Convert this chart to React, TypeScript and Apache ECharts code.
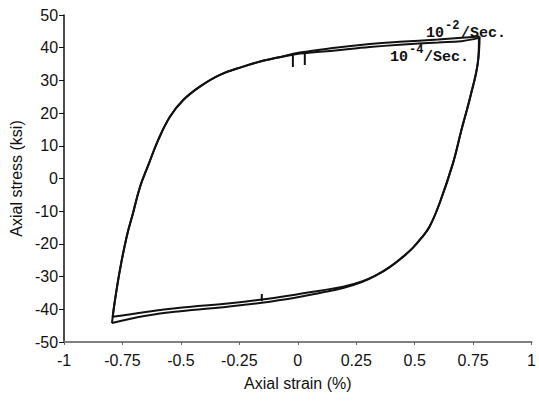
import React, { useEffect, useRef } from "react";
import * as echarts from "echarts";

// Axis ticks
const xTickValues = [-1, -0.75, -0.5, -0.25, 0, 0.25, 0.5, 0.75, 1];
const xTickLabels = ["-1", "-0.75", "-0.5", "-0.25", "0", "0.25", "0.5", "0.75", "1"];
const yTickLabels = ["-50", "-40", "-30", "-20", "-10", "0", "10", "20", "30", "40", "50"];

// 10^-2/sec loop (outer): rising branch (compression tip -> tension tip)
const fastUpStrain = [
  -0.795, -0.782, -0.761, -0.732, -0.705, -0.675, -0.64, -0.597, -0.547, -0.49, -0.419, -0.333,
  -0.234, -0.15, -0.091, 0.009, 0.15, 0.308, 0.436, 0.6, 0.778,
];
const fastUpStress = [
  -44.2, -37.2, -28.0, -17.8, -10.6, -2.6, 4.0, 11.8, 18.9, 24.0, 28.1, 31.7,
  34.2, 36.0, 36.9, 38.5, 39.9, 41.1, 41.8, 42.5, 43.4,
];
// 10^-2/sec loop (outer): falling branch (tension tip -> compression tip)
const fastDownStrain = [
  0.778, 0.77, 0.738, 0.7, 0.664, 0.607, 0.564, 0.532, 0.491, 0.444, 0.393, 0.338, 0.274, 0.194,
  0.094, 0.0, -0.154, -0.3, -0.504, -0.65, -0.795,
];
const fastDownStress = [
  43.4, 35.3, 25.0, 14.8, 4.7, -7.5, -14.7, -17.9, -21.3, -24.3, -27.1, -29.5, -31.7, -33.5,
  -35.0, -36.3, -38.0, -39.2, -40.6, -42.0, -44.2,
];

// 10^-4/sec loop (inner)
const slowUpStrain = [
  -0.792, -0.782, -0.761, -0.732, -0.705, -0.675, -0.64, -0.597, -0.547, -0.49, -0.419, -0.333,
  -0.234, -0.15, -0.091, 0.009, 0.15, 0.308, 0.436, 0.6, 0.7, 0.775,
];
const slowUpStress = [
  -42.3, -37.2, -28.0, -17.8, -10.6, -2.6, 4.0, 11.8, 18.9, 24.0, 28.1, 31.7,
  34.2, 36.0, 36.9, 38.2, 39.1, 40.2, 40.9, 41.6, 42.0, 43.0,
];
const slowDownStrain = [
  0.775, 0.77, 0.738, 0.7, 0.664, 0.607, 0.564, 0.532, 0.491, 0.444, 0.393, 0.338, 0.274, 0.194,
  0.094, 0.0, -0.154, -0.3, -0.504, -0.65, -0.792,
];
const slowDownStress = [
  43.0, 35.3, 25.0, 14.8, 4.7, -7.5, -14.7, -17.9, -21.3, -24.3, -27.1, -29.5, -31.5, -33.1,
  -34.3, -35.4, -37.0, -38.2, -39.5, -40.8, -42.3,
];

// Small recorder glitches
const glitchStrain = [
  [-0.021, -0.021],
  [0.03, 0.03],
  [-0.154, -0.154],
];
const glitchStress = [
  [37.9, 34.1],
  [38.7, 34.7],
  [-37.5, -35.3],
];

const pair = (xs: number[], ys: number[]) => xs.map((x, i) => [x, ys[i]]);

export default function App() {
  const ref = useRef<HTMLDivElement>(null);
  useEffect(() => {
    document.body.style.margin = "0";
    if (!ref.current) return;
    const chart = echarts.init(ref.current, undefined, { renderer: "svg" });
    const lineStyle = { color: "#111", width: 2 };
    const mono = "bold 15px 'Liberation Mono', 'DejaVu Sans Mono', monospace";
    const monoSmall = "bold 12px 'Liberation Mono', 'DejaVu Sans Mono', monospace";
    const txt = (text: string, x: number, y: number, font: string) => ({
      type: "text",
      x,
      y,
      style: { text, font, fill: "#111", align: "left", verticalAlign: "middle" },
    });
    const branch = (name: string, xs: number[], ys: number[]) => ({
      type: "line",
      name,
      data: pair(xs, ys),
      showSymbol: false,
      smooth: 0.4,
      lineStyle,
    });
    chart.setOption({
      animation: false,
      grid: { left: 64, right: 7, top: 15, bottom: 68 },
      xAxis: {
        type: "value",
        min: -1,
        max: 1,
        interval: 0.25,
        name: "Axial strain (%)",
        nameLocation: "middle",
        nameGap: 33,
        nameTextStyle: { fontFamily: "Liberation Sans", fontSize: 16, color: "#111" },
        axisLine: { onZero: false, lineStyle: { color: "#808080", width: 2 } },
        axisTick: { show: true, length: 3, lineStyle: { color: "#666" } },
        splitLine: { show: false },
        axisLabel: {
          margin: 10,
          fontFamily: "Liberation Sans",
          fontSize: 16,
          color: "#111",
          formatter: (v: number) => {
            const i = xTickValues.findIndex((t) => Math.abs(t - v) < 1e-9);
            return i >= 0 ? xTickLabels[i] : "";
          },
        },
      },
      yAxis: {
        type: "value",
        min: -50,
        max: 50,
        interval: 10,
        name: "Axial stress (ksi)",
        nameLocation: "middle",
        nameGap: 40,
        nameTextStyle: { fontFamily: "Liberation Sans", fontSize: 16, color: "#111" },
        axisLine: { show: true, onZero: false, lineStyle: { color: "#111", width: 1.5 } },
        axisTick: { show: true, length: 5, lineStyle: { color: "#111" } },
        splitLine: { show: false },
        axisLabel: {
          margin: 6,
          fontFamily: "Liberation Sans",
          fontSize: 16,
          color: "#111",
          formatter: (v: number) => {
            const i = Math.round((v + 50) / 10);
            return yTickLabels[i] ?? "";
          },
        },
      },
      series: [
        branch("10^-2/Sec. rising", fastUpStrain, fastUpStress),
        branch("10^-2/Sec. falling", fastDownStrain, fastDownStress),
        branch("10^-4/Sec. rising", slowUpStrain, slowUpStress),
        branch("10^-4/Sec. falling", slowDownStrain, slowDownStress),
        ...glitchStrain.map((xs, i) => ({
          type: "line",
          data: pair(xs, glitchStress[i]),
          showSymbol: false,
          lineStyle: { color: "#111", width: 2 },
        })),
      ],
      graphic: [
        txt("10", 426, 33, mono),
        txt("-2", 445, 26, monoSmall),
        txt("/Sec.", 461, 33, mono),
        txt("10", 390, 57, mono),
        txt("-4", 409, 50, monoSmall),
        txt("/Sec.", 424, 57, mono),
      ],
    });
    return () => chart.dispose();
  }, []);
  return <div ref={ref} style={{ width: 539, height: 410 }} />;
}
